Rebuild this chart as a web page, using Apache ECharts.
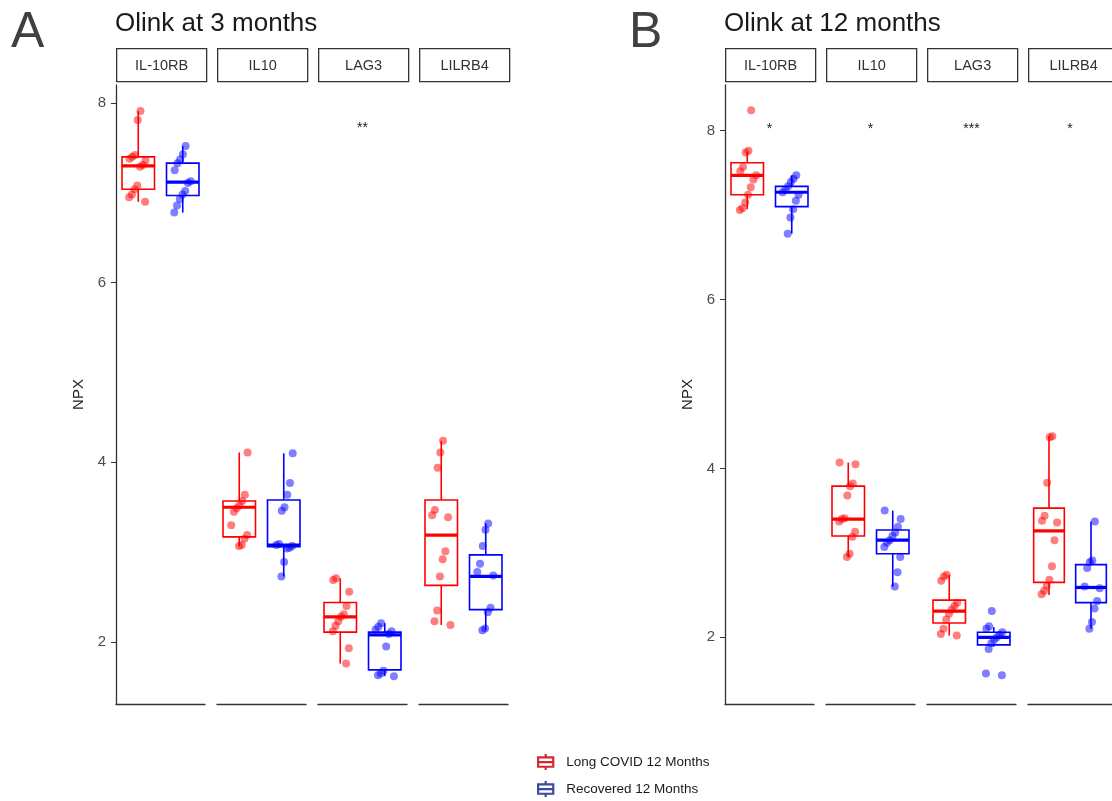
<!DOCTYPE html>
<html><head><meta charset="utf-8">
<script src="https://cdn.jsdelivr.net/npm/echarts@6/dist/echarts.min.js"></script>
<style>html,body{margin:0;padding:0;background:#fff}#c{width:1112px;height:801px}</style>
</head><body><div id="c"></div>
<script>
// ---------------- DATA ----------------
const proteins = ['IL-10RB', 'IL10', 'LAG3', 'LILRB4'];
const groups = ['Long COVID 12 Months', 'Recovered 12 Months'];
const yTicks = [2, 4, 6, 8];
const panelTitles = ['Olink at 3 months', 'Olink at 12 months'];
const panelLetters = ['A', 'B'];

// box stats [min, Q1, median, Q3, max] per protein
const m3LongCovidBox = [[6.90, 7.04, 7.30, 7.40, 7.91], [3.07, 3.17, 3.50, 3.57, 4.11], [1.76, 2.11, 2.28, 2.44, 2.71], [2.19, 2.63, 3.19, 3.58, 4.24]];
const m3RecoveredBox = [[6.78, 6.97, 7.12, 7.33, 7.52], [2.73, 3.06, 3.08, 3.58, 4.10], [1.62, 1.69, 2.08, 2.11, 2.21], [2.13, 2.36, 2.73, 2.97, 3.32]];
const m12LongCovidBox = [[7.07, 7.24, 7.47, 7.62, 7.75], [2.95, 3.20, 3.40, 3.79, 4.07], [2.02, 2.17, 2.31, 2.44, 2.74], [2.50, 2.65, 3.26, 3.53, 4.38]];
const m12RecoveredBox = [[6.78, 7.10, 7.27, 7.34, 7.47], [2.60, 2.99, 3.15, 3.27, 3.50], [1.89, 1.91, 2.00, 2.06, 2.12], [2.10, 2.41, 2.59, 2.86, 3.37]];

// individual NPX points per protein
const m3LongCovid = [
  [7.91, 7.81, 7.42, 7.40, 7.38, 7.36, 7.31, 7.29, 7.08, 7.04, 6.98, 6.95, 6.90],
  [4.11, 3.64, 3.57, 3.52, 3.49, 3.45, 3.30, 3.19, 3.15, 3.08, 3.07],
  [2.71, 2.69, 2.56, 2.40, 2.31, 2.28, 2.23, 2.18, 2.12, 1.93, 1.76],
  [4.24, 4.11, 3.94, 3.47, 3.41, 3.39, 3.01, 2.92, 2.73, 2.35, 2.23, 2.19]
];
const m3Recovered = [
  [7.52, 7.43, 7.37, 7.33, 7.25, 7.13, 7.11, 7.02, 6.98, 6.93, 6.86, 6.78],
  [4.10, 3.77, 3.64, 3.50, 3.46, 3.09, 3.08, 3.07, 3.05, 3.04, 2.89, 2.73],
  [2.21, 2.17, 2.14, 2.12, 2.09, 1.95, 1.68, 1.65, 1.63, 1.62],
  [3.32, 3.25, 3.07, 2.87, 2.78, 2.74, 2.38, 2.33, 2.15, 2.13]
];
const m12LongCovid = [
  [8.24, 7.76, 7.74, 7.57, 7.52, 7.47, 7.42, 7.33, 7.24, 7.15, 7.08, 7.06],
  [4.07, 4.05, 3.82, 3.79, 3.68, 3.41, 3.40, 3.37, 3.25, 3.19, 2.99, 2.95],
  [2.74, 2.72, 2.67, 2.41, 2.37, 2.33, 2.28, 2.21, 2.10, 2.04, 2.02],
  [4.38, 4.37, 3.83, 3.44, 3.38, 3.36, 3.15, 2.84, 2.68, 2.61, 2.55, 2.51]
];
const m12Recovered = [
  [7.47, 7.43, 7.39, 7.34, 7.30, 7.27, 7.24, 7.17, 7.07, 6.97, 6.78],
  [3.50, 3.40, 3.31, 3.24, 3.20, 3.15, 3.12, 3.07, 2.95, 2.77, 2.60],
  [2.31, 2.13, 2.10, 2.06, 2.03, 2.00, 1.97, 1.93, 1.86, 1.57, 1.55],
  [3.37, 2.91, 2.89, 2.82, 2.60, 2.58, 2.43, 2.34, 2.18, 2.10]
];

const m3Signif = ['', '', '**', ''];
const m12Signif = ['*', '*', '***', '*'];
const m3SignifY = 7.72;
const m12SignifY = 8.02;
const m3Range = [1.31, 8.20];
const m12Range = [1.21, 8.54];

// ---------------- STYLE / LAYOUT ----------------
const colors = ['#ff0000', '#0000ff'];
const legendColors = ['#d3282e', '#3a4a9e'];
const FONT = 'Liberation Sans, Arial, Helvetica, sans-serif';
const panels = [
  { lc: m3LongCovid, rec: m3Recovered, lcBox: m3LongCovidBox, recBox: m3RecoveredBox, sig: m3Signif, sigY: m3SignifY, range: m3Range, left: 116, step: 101, letterX: 11 },
  { lc: m12LongCovid, rec: m12Recovered, lcBox: m12LongCovidBox, recBox: m12RecoveredBox, sig: m12Signif, sigY: m12SignifY, range: m12Range, left: 725, step: 101, letterX: 629 }
];
const gridTop = 85, gridHeight = 619, facetW = 89;

const jit = i => (((i + 1) * 0.6180339887) % 1) - 0.5;

const grids = [], xAxes = [], yAxes = [], series = [], graphics = [];

function boxRender(color) {
  return function (params, api) {
    const cat = api.value(0);
    const c = v => api.coord([cat, v]);
    const x = c(api.value(1))[0];
    const yMin = c(api.value(1))[1], yQ1 = c(api.value(2))[1], yMed = c(api.value(3))[1],
          yQ3 = c(api.value(4))[1], yMax = c(api.value(5))[1];
    const w = api.size([1, 0])[0] * 0.73;
    const ls = { stroke: color, lineWidth: 1.6 };
    return { type: 'group', children: [
      { type: 'line', shape: { x1: x, y1: yMax, x2: x, y2: yQ3 }, style: ls },
      { type: 'line', shape: { x1: x, y1: yQ1, x2: x, y2: yMin }, style: ls },
      { type: 'rect', shape: { x: x - w / 2, y: yQ3, width: w, height: yQ1 - yQ3 }, style: { fill: '#fff', stroke: color, lineWidth: 1.6 } },
      { type: 'line', shape: { x1: x - w / 2, y1: yMed, x2: x + w / 2, y2: yMed }, style: { stroke: color, lineWidth: 3.2 } }
    ]};
  };
}
function pointRender(color, seed) {
  return function (params, api) {
    const p = api.coord([api.value(0), api.value(1)]);
    const bw = api.size([1, 0])[0];
    const dx = jit(params.dataIndex * 3 + seed) * bw * 0.42;
    return { type: 'circle', shape: { cx: p[0] + dx, cy: p[1], r: 4 }, style: { fill: color, opacity: 0.5 } };
  };
}

let gi = 0;
panels.forEach((P, pi) => {
  proteins.forEach((prot, f) => {
    const left = P.left + f * P.step;
    grids.push({ left: left, top: gridTop, width: facetW, height: gridHeight, containLabel: false });
    xAxes.push({ gridIndex: gi, type: 'category', data: groups, boundaryGap: true,
      axisLine: { show: true, lineStyle: { color: '#333', width: 1.3 } }, axisTick: { show: false }, axisLabel: { show: false }, splitLine: { show: false } });
    yAxes.push({ gridIndex: gi, type: 'value', min: P.range[0], max: P.range[1], show: f === 0,
      name: f === 0 ? 'NPX' : '', nameLocation: 'middle', nameGap: 30, nameRotate: 90,
      nameTextStyle: { fontSize: 15, color: '#1a1a1a', fontFamily: FONT },
      axisLine: { show: true, lineStyle: { color: '#333', width: 1.3 } },
      axisTick: { show: true, length: 5, customValues: yTicks, lineStyle: { color: '#333' } },
      axisLabel: { show: true, customValues: yTicks, margin: 10, fontSize: 15, color: '#4d4d4d', fontFamily: FONT },
      splitLine: { show: false } });

    const boxes = [P.lcBox[f], P.recBox[f]];
    const pts = [P.lc[f], P.rec[f]];
    [0, 1].forEach(g => {
      series.push({ type: 'custom', name: groups[g], xAxisIndex: gi, yAxisIndex: gi, z: 2,
        renderItem: boxRender(colors[g]), encode: { x: 0, y: [1, 2, 3, 4, 5] },
        itemStyle: { color: colors[g] },
        data: [[g].concat(boxes[g])], silent: true });
    });
    [0, 1].forEach(g => {
      series.push({ type: 'custom', name: groups[g] + ' points', xAxisIndex: gi, yAxisIndex: gi, z: 3,
        renderItem: pointRender(colors[g], f * 7 + g * 13 + pi * 5), encode: { x: 0, y: 1 },
        data: pts[g].map(v => [g, v]), silent: true });
    });
    const sigText = P.sig[f];
    series.push({ type: 'custom', name: 'signif', xAxisIndex: gi, yAxisIndex: gi, z: 4, silent: true,
      encode: { x: 0, y: 1 }, data: [[0, P.sigY]],
      renderItem: function (params, api) {
        const a = api.coord([0, api.value(1)]);
        const b = api.coord([1, api.value(1)]);
        return { type: 'text', x: (a[0] + b[0]) / 2, y: a[1],
          style: { text: sigText, textAlign: 'center', textVerticalAlign: 'middle', fontSize: 14, fill: '#1a1a1a', fontFamily: FONT } };
      } });

    // facet strip
    graphics.push({ type: 'group', left: left, top: 48, children: [
      { type: 'rect', shape: { x: 0, y: 0, width: facetW + 1, height: 33 }, style: { fill: '#fff', stroke: '#333', lineWidth: 1.3 } },
      { type: 'text', x: (facetW + 1) / 2, y: 17, style: { text: prot, textAlign: 'center', textVerticalAlign: 'middle', fontSize: 14.5, fill: '#333', fontFamily: FONT } }
    ]});
    gi++;
  });
  graphics.push({ type: 'text', left: P.left - 1, top: 11, style: { text: panelTitles[pi], fontSize: 26, fill: '#1a1a1a', fontFamily: FONT } });
  graphics.push({ type: 'text', left: P.letterX, top: 8, style: { text: panelLetters[pi], fontSize: 50, fill: '#404040', fontFamily: FONT } });
});

const legendIcon = 'path://M1,4 L19,4 L19,15 L1,15 Z M1,9.5 L19,9.5 M10,0 L10,4 M10,15 L10,19';
const legends = groups.map((n, i) => ({
  orient: 'vertical', left: 537, top: 753 + i * 27, itemWidth: 19, itemHeight: 16, padding: 0,
  selectedMode: false,
  textStyle: { fontSize: 13.5, color: '#1a1a1a', fontFamily: FONT, padding: [0, 0, 0, 6] },
  data: [{ name: n, icon: legendIcon, itemStyle: { color: 'rgba(0,0,0,0)', borderColor: legendColors[i], borderWidth: 2.2 } }]
}));

const chart = echarts.init(document.getElementById('c'), null, { renderer: 'canvas' });
chart.setOption({
  backgroundColor: '#fff',
  animation: false,
  grid: grids, xAxis: xAxes, yAxis: yAxes, series: series, graphic: graphics,
  legend: legends
});
</script></body></html>
